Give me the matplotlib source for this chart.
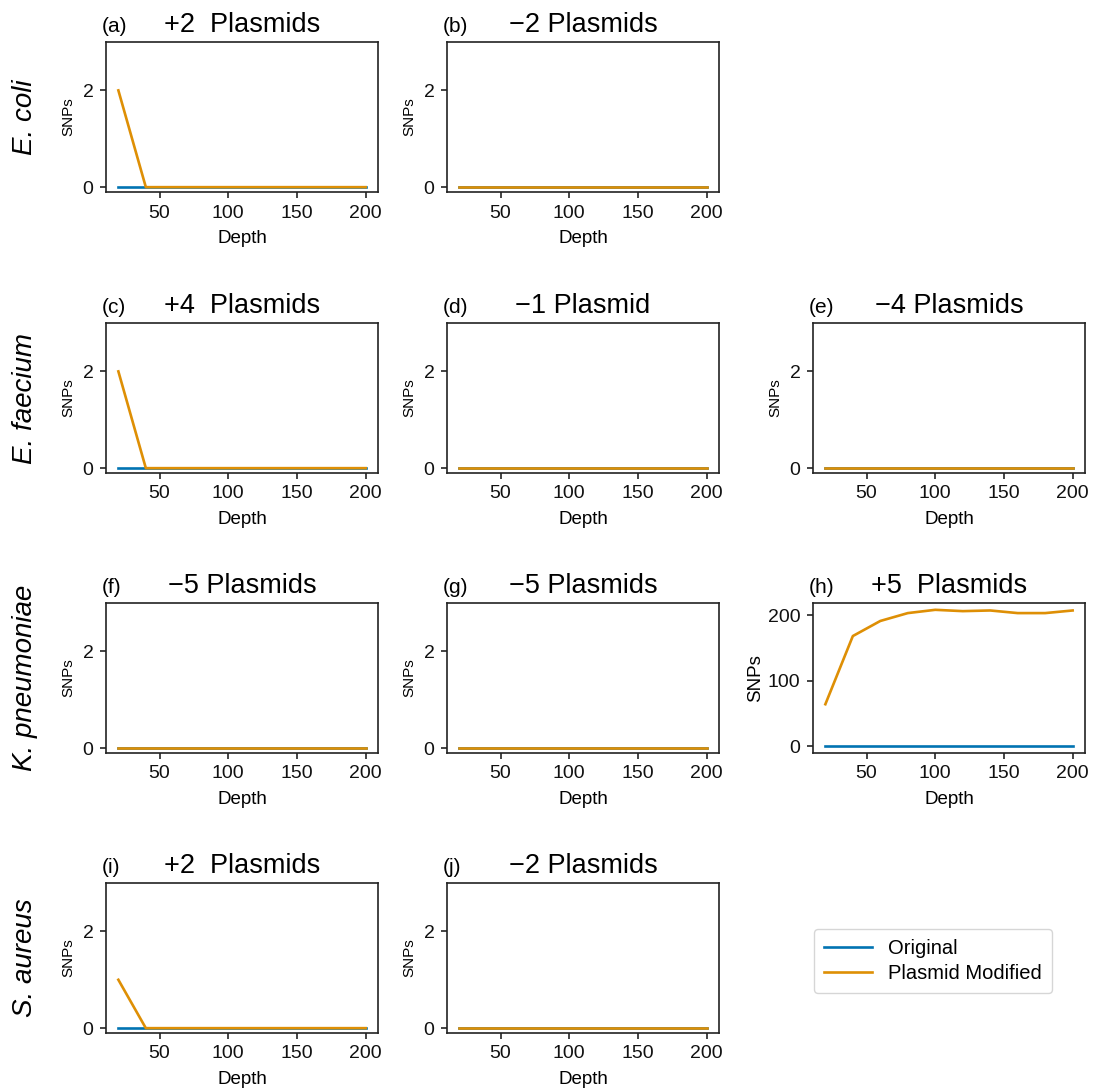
import matplotlib
matplotlib.use("Agg")
import matplotlib.pyplot as plt
import numpy as np

plt.rcParams['font.family'] = ['Liberation Sans', 'DejaVu Sans']

depth = [20, 40, 60, 80, 100, 120, 140, 160, 180, 200]

species = ["E. coli", "E. faecium", "K. pneumoniae", "S. aureus"]

# panel: (row, col, letter, title, original, modified)
zero = [0] * 10
panels = [
    (0, 0, "(a)", "+2  Plasmids", zero, [2, 0, 0, 0, 0, 0, 0, 0, 0, 0]),
    (0, 1, "(b)", "\u22122 Plasmids", zero, zero),
    (1, 0, "(c)", "+4  Plasmids", zero, [2, 0, 0, 0, 0, 0, 0, 0, 0, 0]),
    (1, 1, "(d)", "\u22121 Plasmid", zero, zero),
    (1, 2, "(e)", "\u22124 Plasmids", zero, zero),
    (2, 0, "(f)", "\u22125 Plasmids", zero, zero),
    (2, 1, "(g)", "\u22125 Plasmids", zero, zero),
    (2, 2, "(h)", "+5  Plasmids", zero, [64, 168, 191, 203, 208, 206, 207, 203, 203, 207]),
    (3, 0, "(i)", "+2  Plasmids", zero, [1, 0, 0, 0, 0, 0, 0, 0, 0, 0]),
    (3, 1, "(j)", "\u22122 Plasmids", zero, zero),
]

c_orig = "#0173B2"
c_mod = "#DE8F05"

W, H = 1094, 1090
fig = plt.figure(figsize=(W / 100, H / 100), dpi=100)

col_left = [106, 447, 813]
ax_w = 272
row_top = [42, 323, 603, 883]
ax_h = 150


def make_ax(r, c):
    l = col_left[c] / W
    b = 1 - (row_top[r] + ax_h) / H
    return fig.add_axes([l, b, ax_w / W, ax_h / H])


for (r, c, letter, title, orig, mod) in panels:
    ax = make_ax(r, c)
    ax.plot(depth, orig, color=c_orig, lw=1.9, label="Original")
    ax.plot(depth, mod, color=c_mod, lw=1.9, label="Plasmid Modified")
    if max(mod) < 3:
        ax.set_ylim(-0.1, 3)
        ax.set_yticks([0, 2])
        ax.set_ylabel("SNPs", fontsize=11, labelpad=5)
    else:
        ax.set_yticks([0, 100, 200])
        ax.set_ylabel("SNPs", fontsize=13.5, labelpad=3)
    ax.set_xticks([50, 100, 150, 200])
    ax.set_xlabel("Depth", fontsize=13.5, labelpad=6)
    ax.tick_params(labelsize=14, length=4.5, width=1.1, colors="#111111",
                   pad=4.5)
    for s in ax.spines.values():
        s.set_linewidth(1.2)
        s.set_color("#222222")
    ax.set_title(title, fontsize=19.5, pad=7)
    ax.text(-0.015, 1.0 + 10 / ax_h, letter, transform=ax.transAxes,
            fontsize=15, ha="left", va="baseline")
    if c == 0:
        fig.text(25 / W, 1 - (row_top[r] + ax_h / 2) / H, species[r],
                 rotation=90, fontsize=20, style="italic",
                 ha="center", va="center")
    if (r, c) == (3, 1):
        handles, labels = ax.get_legend_handles_labels()

# legend in the empty cell
lax = make_ax(3, 2)
lax.axis("off")
lax.legend(handles, labels, loc="center", fontsize=14.5, frameon=True,
           bbox_to_anchor=((933 - 813) / ax_w, 0.5 - 3 / ax_h),
           handlelength=2.4, handletextpad=0.8, borderpad=0.5,
           labelspacing=0.3)

fig.savefig("out.png", dpi=100)
